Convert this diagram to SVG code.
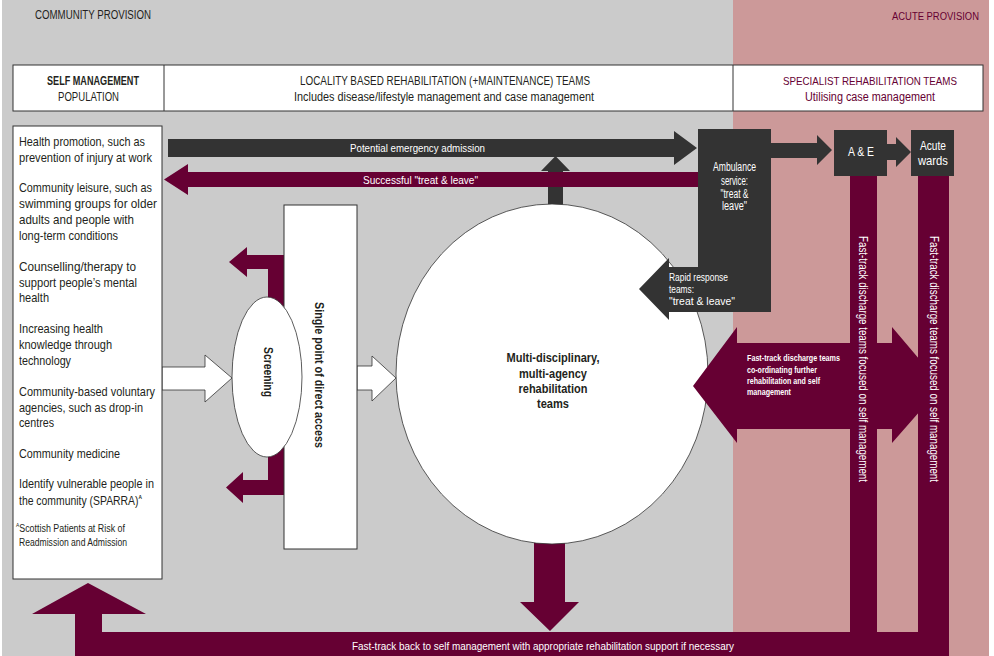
<svg xmlns="http://www.w3.org/2000/svg" width="994" height="656" viewBox="0 0 994 656">
<style>
text{font-family:"Liberation Sans Narrow","Liberation Sans",Arial,sans-serif;}
.dk{fill:#333333;}
.mr{fill:#660033;}
.box{fill:#ffffff;stroke:#333333;stroke-width:1;}
.thin{fill:#ffffff;stroke:#333333;stroke-width:0.8;}
.lp{font-size:13px;fill:#231f20;}
.hd{font-size:12.5px;fill:#231f20;}
.hm{font-size:12.5px;fill:#660033;}
.wl{font-size:11.5px;fill:#ffffff;}
.ws{font-size:9.5px;fill:#ffffff;font-weight:bold;}
.bd{font-weight:bold;}
</style>
<rect x="0" y="0" width="994" height="656" fill="#ffffff"/>
<rect x="2" y="0" width="731" height="656" fill="#cbcbcb"/>
<rect x="733" y="0" width="256" height="656" fill="#cc9999"/>
<text x="35" y="19" class="hd" style="font-size:12px" textLength="116" lengthAdjust="spacingAndGlyphs">COMMUNITY PROVISION</text>
<text x="892" y="20" class="hm" style="font-size:10px" textLength="87" lengthAdjust="spacingAndGlyphs">ACUTE PROVISION</text>
<g id="header">
<rect x="13" y="65" width="970" height="46" class="box"/>
<line x1="164" y1="65" x2="164" y2="111" stroke="#333333"/>
<line x1="733" y1="65" x2="733" y2="111" stroke="#333333"/>
<text x="93" y="85" class="hd bd" text-anchor="middle" textLength="92" lengthAdjust="spacingAndGlyphs">SELF MANAGEMENT</text>
<text x="88.5" y="101" class="hd" text-anchor="middle" textLength="61" lengthAdjust="spacingAndGlyphs">POPULATION</text>
<text x="445" y="85" class="hd" text-anchor="middle" textLength="290" lengthAdjust="spacingAndGlyphs">LOCALITY BASED REHABILITATION (+MAINTENANCE) TEAMS</text>
<text x="444" y="101" class="hd" text-anchor="middle" textLength="300" lengthAdjust="spacingAndGlyphs">Includes disease/lifestyle management and case management</text>
<text x="870" y="85" class="hm" style="font-size:11px" text-anchor="middle" textLength="174" lengthAdjust="spacingAndGlyphs">SPECIALIST REHABILITATION TEAMS</text>
<text x="870" y="101" class="hm" text-anchor="middle" textLength="130" lengthAdjust="spacingAndGlyphs">Utilising case management</text>
</g>
<g id="connectors">
<rect x="850" y="176" width="27" height="480" class="mr"/>
<rect x="918" y="176" width="31" height="480" class="mr"/>
<rect x="75" y="632" width="874" height="24" class="mr"/>
<polygon points="75,656 75,614 32,614 88,583 146,614 102,614 102,656" class="mr"/>
<polygon points="534,530 565,530 565,602 579,602 550,631 520,602 534,602" class="mr"/>
<polygon points="548,215 548,171 541,171 555.5,156 570,171 563,171 563,215" class="dk"/>
<polygon points="168,139 674,139 674,131 697,148 674,165 674,157 168,157" class="dk"/>
<polygon points="698,172 188,172 188,164 164,179.5 188,195 188,187 698,187" class="mr"/>
<polygon points="771,143 817,143 817,135 832,150 817,165 817,158 771,158" class="dk"/>
<polygon points="887,144 896,144 896,137 911,152 896,167 896,160 887,160" class="dk"/>
<polygon points="229,262 247,247 247,255 284,255 284,320 268,320 268,269 247,269 247,277" class="mr"/>
<polygon points="226,487.5 243,472 243,480 268,480 268,440 284,440 284,495 243,495 243,503" class="mr"/>
<polygon points="162,367 205,367 205,355 232,378 205,402 205,390 162,390" class="thin"/>
<polygon points="357,366 372,366 372,356 396,378 372,401 372,390 357,390" class="thin"/>
<text x="417.5" y="152" class="wl" text-anchor="middle" textLength="135" lengthAdjust="spacingAndGlyphs">Potential emergency admission</text>
<text x="420.5" y="183.5" class="wl" text-anchor="middle" textLength="115" lengthAdjust="spacingAndGlyphs">Successful "treat &amp; leave"</text>
<text x="543" y="650" class="wl" style="font-size:11px" text-anchor="middle" textLength="382" lengthAdjust="spacingAndGlyphs">Fast-track back to self management with appropriate rehabilitation support if necessary</text>
</g>
<g id="self-management">
<rect x="13" y="126" width="149" height="453" class="box"/>
<text x="19" y="145.5" class="lp" textLength="126" lengthAdjust="spacingAndGlyphs">Health promotion, such as</text>
<text x="19" y="161.5" class="lp" textLength="133" lengthAdjust="spacingAndGlyphs">prevention of injury at work</text>
<text x="19" y="191.5" class="lp" textLength="133" lengthAdjust="spacingAndGlyphs">Community leisure, such as</text>
<text x="19" y="207.5" class="lp" textLength="138" lengthAdjust="spacingAndGlyphs">swimming groups for older</text>
<text x="19" y="223.5" class="lp" textLength="115" lengthAdjust="spacingAndGlyphs">adults and people with</text>
<text x="19" y="239.5" class="lp" textLength="99" lengthAdjust="spacingAndGlyphs">long-term conditions</text>
<text x="19" y="270.5" class="lp" textLength="117" lengthAdjust="spacingAndGlyphs">Counselling/therapy  to</text>
<text x="19" y="286.5" class="lp" textLength="118" lengthAdjust="spacingAndGlyphs">support people’s mental</text>
<text x="19" y="301.5" class="lp" textLength="30" lengthAdjust="spacingAndGlyphs">health</text>
<text x="19" y="332.5" class="lp" textLength="84" lengthAdjust="spacingAndGlyphs">Increasing health</text>
<text x="19" y="348.5" class="lp" textLength="93" lengthAdjust="spacingAndGlyphs">knowledge through</text>
<text x="19" y="364.5" class="lp" textLength="52" lengthAdjust="spacingAndGlyphs">technology</text>
<text x="19" y="395.5" class="lp" textLength="136" lengthAdjust="spacingAndGlyphs">Community-based voluntary</text>
<text x="19" y="411.5" class="lp" textLength="124" lengthAdjust="spacingAndGlyphs">agencies, such as drop-in</text>
<text x="19" y="426.5" class="lp" textLength="35" lengthAdjust="spacingAndGlyphs">centres</text>
<text x="19" y="457.5" class="lp" textLength="101" lengthAdjust="spacingAndGlyphs">Community medicine</text>
<text x="19" y="488" class="lp" textLength="135" lengthAdjust="spacingAndGlyphs">Identify vulnerable people in</text>
<text x="19" y="504.5" class="lp" textLength="123" lengthAdjust="spacingAndGlyphs">the community (SPARRA)<tspan style="font-size:6px;font-weight:bold" dy="-6">A</tspan></text>
<text x="16" y="532" class="lp" style="font-size:10px" textLength="109" lengthAdjust="spacingAndGlyphs"><tspan style="font-size:5.5px" dy="-5">A</tspan><tspan dy="5">Scottish Patients at Risk of</tspan></text>
<text x="19" y="546" class="lp" style="font-size:10px" textLength="108" lengthAdjust="spacingAndGlyphs">Readmission and Admission</text>
</g>
<g id="single-point">
<rect x="284" y="205" width="73" height="344" class="box"/>
<text transform="translate(314.5,302) rotate(90)" class="hd bd" style="font-size:13px" textLength="146" lengthAdjust="spacingAndGlyphs">Single point of direct access</text>
</g>
<g id="screening">
<ellipse cx="267" cy="377" rx="35" ry="80" class="thin"/>
<text transform="translate(263.5,347) rotate(90)" class="hd bd" style="font-size:13px" textLength="50" lengthAdjust="spacingAndGlyphs">Screening</text>
</g>
<g id="rehab-teams">
<ellipse cx="552" cy="374" rx="156" ry="170" class="thin"/>
<text x="553" y="362" class="hd bd" style="font-size:13.5px" text-anchor="middle" textLength="93" lengthAdjust="spacingAndGlyphs">Multi-disciplinary,</text>
<text x="553" y="377.5" class="hd bd" style="font-size:13.5px" text-anchor="middle" textLength="68" lengthAdjust="spacingAndGlyphs">multi-agency</text>
<text x="553" y="393" class="hd bd" style="font-size:13.5px" text-anchor="middle" textLength="69" lengthAdjust="spacingAndGlyphs">rehabilitation</text>
<text x="553" y="408" class="hd bd" style="font-size:13.5px" text-anchor="middle" textLength="32" lengthAdjust="spacingAndGlyphs">teams</text>
</g>
<g id="ambulance">
<rect x="698" y="129" width="73" height="183" class="dk"/>
<text x="734.5" y="171" class="wl" style="font-size:12px" text-anchor="middle" textLength="43" lengthAdjust="spacingAndGlyphs">Ambulance</text>
<text x="734.5" y="184.5" class="wl" style="font-size:12px" text-anchor="middle" textLength="27" lengthAdjust="spacingAndGlyphs">service:</text>
<text x="734.5" y="197.5" class="wl" style="font-size:12px" text-anchor="middle" textLength="28" lengthAdjust="spacingAndGlyphs">"treat &amp;</text>
<text x="734.5" y="210" class="wl" style="font-size:12px" text-anchor="middle" textLength="25" lengthAdjust="spacingAndGlyphs">leave"</text>
</g>
<g id="rapid-response">
<polygon points="639,289 669,258 669,267 771,267 771,312 669,312 669,320" class="dk"/>
<text x="669" y="280.5" class="wl" style="font-size:11px" textLength="59" lengthAdjust="spacingAndGlyphs">Rapid response</text>
<text x="669" y="292.5" class="wl" style="font-size:11px" textLength="25" lengthAdjust="spacingAndGlyphs">teams:</text>
<text x="669" y="304.5" class="wl" style="font-size:11px" textLength="66" lengthAdjust="spacingAndGlyphs">"treat &amp; leave"</text>
</g>
<g id="ae">
<rect x="834" y="130" width="53" height="46" class="dk"/>
<text x="861" y="156" class="wl" style="font-size:13px" text-anchor="middle" textLength="26" lengthAdjust="spacingAndGlyphs">A &amp; E</text>
</g>
<g id="acute-wards">
<rect x="911" y="130" width="43" height="46" class="dk"/>
<text x="933" y="150" class="wl" style="font-size:13px" text-anchor="middle" textLength="26" lengthAdjust="spacingAndGlyphs">Acute</text>
<text x="933" y="165" class="wl" style="font-size:13px" text-anchor="middle" textLength="30" lengthAdjust="spacingAndGlyphs">wards</text>
</g>
<g id="fast-track-discharge">
<polygon points="693,386 737,327 737,343 892,343 892,327 942,386 892,443 892,429 737,429 737,443" class="mr"/>
<text x="747" y="361" class="ws" textLength="93" lengthAdjust="spacingAndGlyphs">Fast-track discharge teams</text>
<text x="747" y="372.5" class="ws" textLength="70" lengthAdjust="spacingAndGlyphs">co-ordinating further</text>
<text x="747" y="384" class="ws" textLength="73" lengthAdjust="spacingAndGlyphs">rehabilitation and self</text>
<text x="747" y="395" class="ws" textLength="44" lengthAdjust="spacingAndGlyphs">management</text>
</g>
<g id="discharge-bars">
<rect x="850" y="300" width="27" height="200" class="mr"/>
<rect x="918" y="300" width="31" height="200" class="mr"/>
<text transform="translate(859,236) rotate(90)" class="wl" style="font-size:12px" textLength="246" lengthAdjust="spacingAndGlyphs">Fast-track discharge teams focused on self management</text>
<text transform="translate(929.5,236) rotate(90)" class="wl" style="font-size:12px" textLength="246" lengthAdjust="spacingAndGlyphs">Fast-track discharge teams focused on self management</text>
</g>
</svg>
